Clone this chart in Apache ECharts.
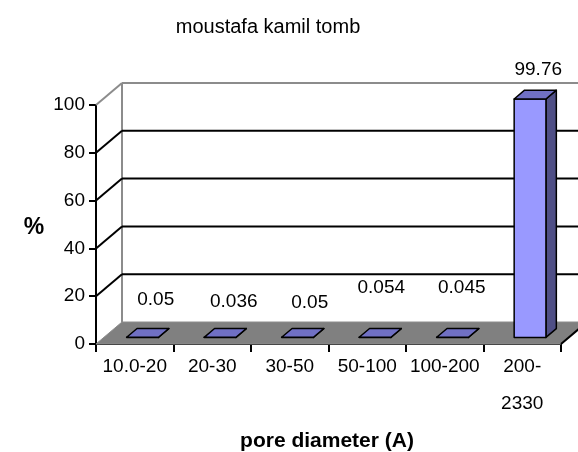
<!DOCTYPE html>
<html>
<head>
<meta charset="utf-8">
<script src="https://cdn.jsdelivr.net/npm/echarts@6/dist/echarts.min.js"></script>
<style>
  html, body { margin: 0; padding: 0; background: #ffffff; }
  #chart { width: 578px; height: 452px; }
</style>
</head>
<body>
<div id="chart"></div>
<script>
// Pore size distribution (percent) per diameter range
const categories = ['10.0-20', '20-30', '30-50', '50-100', '100-200', '200-2330'];
const poreShare = [0.05, 0.036, 0.05, 0.054, 0.045, 99.76];
const valueTicks = [0, 20, 40, 60, 80, 100];

// Per-label nudges (px) from the centre of each bar's top face
const labelNudge = [[8, -33], [8.5, -31], [7, -30], [1, -45], [4, -45], [3, -25]];

// Pseudo-3D projection: full depth of the box and the bar slab within it
const DEPTH = [26, -22];
const BAR_FRONT = 0.3;
const BAR_DEPTH = 0.4;
const BAR_WIDTH = 0.41;
const FONT = '"Liberation Sans", Arial, sans-serif';

const chart = echarts.init(document.getElementById('chart'), null, { renderer: 'canvas' });

function plotEdges(api) {
  const bw = api.size([1, 0])[0];
  const first = api.coord([0, 0]);
  const last = api.coord([categories.length - 1, 0]);
  return { bw: bw, x0: first[0] - bw / 2, x1: last[0] + bw / 2, y0: first[1] };
}

// Floor and side/back wall frame
function renderFrame(params, api) {
  const e = plotEdges(api);
  const yTop = api.coord([0, valueTicks[valueTicks.length - 1]])[1];
  const dx = DEPTH[0], dy = DEPTH[1];
  return {
    type: 'group',
    children: [
      {
        type: 'polygon',
        shape: { points: [[e.x0, e.y0], [e.x1, e.y0], [e.x1 + dx, e.y0 + dy], [e.x0 + dx, e.y0 + dy]] },
        style: { fill: '#808080', stroke: '#8c8c8c', lineWidth: 1 }
      },
      {
        type: 'line',
        shape: { x1: e.x0 + dx, y1: e.y0 + dy, x2: e.x0 + dx, y2: yTop + dy },
        style: { stroke: '#8c8c8c', lineWidth: 2 }
      },
      {
        type: 'line',
        shape: { x1: e.x1, y1: e.y0, x2: e.x1 + dx, y2: e.y0 + dy },
        style: { stroke: '#000000', lineWidth: 2 }
      }
    ]
  };
}

// Gridlines running across the side wall and along the back wall
function renderGrid(params, api) {
  const e = plotEdges(api);
  const v = api.value(0);
  const y = api.coord([0, v])[1];
  const dx = DEPTH[0], dy = DEPTH[1];
  const isTop = v === valueTicks[valueTicks.length - 1];
  const color = isTop ? '#8c8c8c' : '#000000';
  return {
    type: 'group',
    children: [
      {
        type: 'line',
        shape: { x1: e.x0, y1: y, x2: e.x0 + dx, y2: y + dy },
        style: { stroke: color, lineWidth: 2 }
      },
      {
        type: 'line',
        shape: { x1: e.x0 + dx, y1: y + dy, x2: e.x1 + dx, y2: y + dy },
        style: { stroke: color, lineWidth: 2 }
      }
    ]
  };
}

// 3D bars with value labels
function renderBar(params, api) {
  const e = plotEdges(api);
  const idx = api.value(0);
  const val = api.value(1);
  const base = api.coord([idx, 0]);
  const top = api.coord([idx, val]);
  const w = e.bw * BAR_WIDTH;
  const fx = DEPTH[0] * BAR_FRONT, fy = DEPTH[1] * BAR_FRONT;
  const bx = DEPTH[0] * BAR_DEPTH, by = DEPTH[1] * BAR_DEPTH;
  const L = base[0] - w / 2 + fx, R = L + w;
  const B = base[1] + fy, T = top[1] + fy;
  const nudge = labelNudge[params.dataIndex];
  const lineStyle = { stroke: '#000000', lineWidth: 1.5, lineJoin: 'round' };
  return {
    type: 'group',
    children: [
      {
        type: 'polygon',
        shape: { points: [[R, T], [R + bx, T + by], [R + bx, B + by], [R, B]] },
        style: Object.assign({ fill: '#4f4f86' }, lineStyle)
      },
      {
        type: 'polygon',
        shape: { points: [[L, T], [R, T], [R, B], [L, B]] },
        style: Object.assign({ fill: '#9999ff' }, lineStyle)
      },
      {
        type: 'polygon',
        shape: { points: [[L, T], [R, T], [R + bx, T + by], [L + bx, T + by]] },
        style: Object.assign({ fill: '#7070c4' }, lineStyle)
      },
      {
        type: 'text',
        x: (L + R) / 2 + bx / 2 + nudge[0],
        y: T + by / 2 + nudge[1],
        style: {
          text: String(poreShare[params.dataIndex]),
          fill: '#000000',
          font: '19px ' + FONT,
          align: 'center',
          verticalAlign: 'middle'
        }
      }
    ]
  };
}

const option = {
  animation: false,
  backgroundColor: '#ffffff',
  grid: { left: 96, right: 17, top: 105, bottom: 108, containLabel: false },
  xAxis: {
    type: 'category',
    data: categories,
    boundaryGap: true,
    axisLine: { show: true, lineStyle: { color: '#000000', width: 2 } },
    axisTick: { show: true, length: 8, interval: 0, lineStyle: { color: '#000000', width: 2 } },
    axisLabel: {
      interval: 0,
      margin: 4,
      color: '#000000',
      fontSize: 19,
      fontFamily: FONT,
      lineHeight: 37,
      formatter: function (v) { return v.length > 7 ? v.replace('-', '-\n') : v; }
    },
    splitLine: { show: false }
  },
  yAxis: {
    type: 'value',
    min: 0,
    max: 100,
    interval: 20,
    axisLine: { show: true, lineStyle: { color: '#000000', width: 2 } },
    axisTick: { show: true, length: 7, lineStyle: { color: '#000000', width: 2 } },
    axisLabel: { margin: 11, color: '#000000', fontSize: 19, fontFamily: FONT },
    splitLine: { show: false }
  },
  graphic: [
    {
      type: 'text', x: 268, y: 27,
      style: { text: 'moustafa kamil tomb', font: '20px ' + FONT, fill: '#000000', align: 'center', verticalAlign: 'middle' }
    },
    {
      type: 'text', x: 34, y: 228,
      style: { text: '%', font: 'bold 23px ' + FONT, fill: '#000000', align: 'center', verticalAlign: 'middle' }
    },
    {
      type: 'text', x: 327, y: 441,
      style: { text: 'pore diameter (A)', font: 'bold 21px ' + FONT, fill: '#000000', align: 'center', verticalAlign: 'middle' }
    }
  ],
  series: [
    {
      type: 'custom',
      z: 1,
      silent: true,
      clip: false,
      renderItem: renderFrame,
      data: [[0]]
    },
    {
      type: 'custom',
      z: 2,
      silent: true,
      clip: false,
      renderItem: renderGrid,
      data: valueTicks.slice(1).map(function (v) { return [v]; })
    },
    {
      type: 'custom',
      z: 3,
      silent: true,
      clip: false,
      renderItem: renderBar,
      encode: { x: 0, y: 1 },
      data: poreShare.map(function (v, i) { return [i, v]; })
    }
  ]
};

chart.setOption(option);
</script>
</body>
</html>
